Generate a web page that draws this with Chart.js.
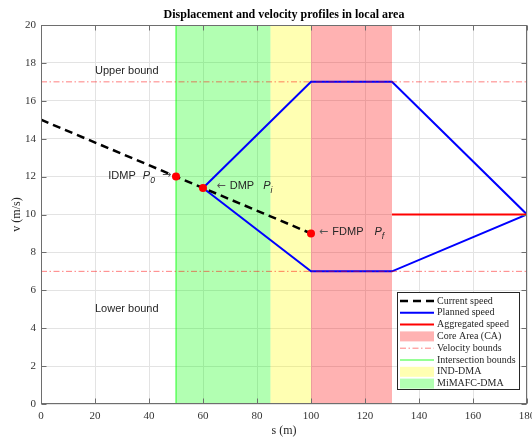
<!DOCTYPE html>
<html><head><meta charset="utf-8">
<script src="https://cdn.jsdelivr.net/npm/chart.js@4/dist/chart.umd.min.js"></script>
<style>html,body{margin:0;padding:0;background:#fff}canvas{display:block}</style>
</head><body>
<canvas id="c" width="532" height="438"></canvas>
<script>
// ---- data ----
const xTickValues = [0, 20, 40, 60, 80, 100, 120, 140, 160, 180];
const yTickValues = [0, 2, 4, 6, 8, 10, 12, 14, 16, 18, 20];
const currentSpeedS = [0, 100];
const currentSpeedV = [15, 9];
const plannedUpperS = [60, 100, 130, 180];
const plannedUpperV = [11.4, 17, 17, 10];
const plannedLowerS = [60, 100, 130, 180];
const plannedLowerV = [11.4, 7, 7, 10];
const aggregatedS = [130, 180];
const aggregatedV = [10, 10];
const velocityBounds = [17, 7];
const intersectionS = [50];
const markerS = [50, 60, 100];
const markerV = [12, 11.4, 9];
const coreAreaS = [100, 130];
const indDmaS = [85, 100];
const mimafcDmaS = [50, 85];
const legendLabels = ['Current speed', 'Planned speed', 'Aggregated speed', 'Core Area (CA)', 'Velocity bounds', 'Intersection bounds', 'IND-DMA', 'MiMAFC-DMA'];
const titleText = 'Displacement and velocity profiles in local area';

// ---- styles ----
const C_CORE = 'rgba(255,0,0,0.3)';
const C_IND = 'rgba(255,255,0,0.3)';
const C_MIM = 'rgba(0,255,0,0.3)';
const C_BOUND = 'rgba(255,0,0,0.5)';
const C_INTER = 'rgba(0,255,0,0.55)';
const SERIF = "'Liberation Serif', 'Times New Roman', serif";
const SANS = "'Liberation Sans', Arial, sans-serif";
const ARROWF = "'DejaVu Sans', sans-serif";
const DASH_BOUND = [6, 2.5, 1.5, 2.5];

const pts = (xs, ys) => xs.map((x, i) => ({x, y: ys[i]}));
const xMin = xTickValues[0], xMax = xTickValues[xTickValues.length - 1];
const yMin = yTickValues[0], yMax = yTickValues[yTickValues.length - 1];

const lineDs = (data, color, width, dash, order) => ({
  data, showLine: true, borderColor: color, borderWidth: width, borderDash: dash || [],
  pointRadius: 0, fill: false, tension: 0, order
});

const datasets = [
  {data: pts(markerS, markerV), showLine: false, pointRadius: 4, pointBackgroundColor: '#ff0000', pointBorderWidth: 0, order: 0},
  lineDs(pts([xMin, xMax], [velocityBounds[0], velocityBounds[0]]), C_BOUND, 1, DASH_BOUND, 1),
  lineDs(pts([xMin, xMax], [velocityBounds[1], velocityBounds[1]]), C_BOUND, 1, DASH_BOUND, 1),
  lineDs(pts(currentSpeedS, currentSpeedV), '#000000', 2.5, [8, 5], 2),
  lineDs(pts(aggregatedS, aggregatedV), '#ff0000', 2, null, 3),
  lineDs(pts(plannedUpperS, plannedUpperV), '#0000ff', 2, null, 4),
  lineDs(pts(plannedLowerS, plannedLowerV), '#0000ff', 2, null, 4),
  lineDs(pts([intersectionS[0], intersectionS[0]], [yMin, yMax]), C_INTER, 1.5, null, 5)
];

function drawRich(ctx, segs, x, y, align, size) {
  const fontFor = s => (s.italic ? 'italic ' : '') + (s.sub ? size * 0.78 : size) + 'px ' + (s.arrow ? ARROWF : SANS);
  let total = 0;
  segs.forEach(s => { ctx.font = fontFor(s); s.w = ctx.measureText(s.text).width + (s.gap || 0); total += s.w; });
  let cx = align === 'right' ? x - total : x;
  ctx.textAlign = 'left';
  ctx.textBaseline = 'middle';
  segs.forEach(s => {
    ctx.font = fontFor(s);
    ctx.fillStyle = s.arrow ? '#555' : '#262626';
    ctx.fillText(s.text, cx, y + (s.sub ? size * 0.45 : 0));
    cx += s.w;
  });
}

const decor = {
  id: 'decor',
  beforeDatasetsDraw(chart) {
    const {ctx, chartArea: a, scales: {x}} = chart;
    ctx.save();
    [[mimafcDmaS, C_MIM], [indDmaS, C_IND], [coreAreaS, C_CORE]].forEach(([r, c]) => {
      const x1 = x.getPixelForValue(r[0]), x2 = x.getPixelForValue(r[1]);
      ctx.fillStyle = c;
      ctx.fillRect(x1, a.top, x2 - x1, a.bottom - a.top);
    });
    ctx.restore();
  },
  afterDatasetsDraw(chart) {
    const {ctx, chartArea: a, scales: {x, y}} = chart;
    ctx.save();
    // annotations
    ctx.font = '11px ' + SANS;
    ctx.fillStyle = '#262626';
    ctx.textAlign = 'left';
    ctx.textBaseline = 'middle';
    ctx.fillText('Upper bound', x.getPixelForValue(20), y.getPixelForValue(17.6));
    ctx.fillText('Lower bound', x.getPixelForValue(20), y.getPixelForValue(5.0));
    drawRich(ctx, [{text: 'IDMP', gap: 7}, {text: 'P', italic: true}, {text: '0', italic: true, sub: true, gap: 7}, {text: '\u2192', arrow: true}],
      x.getPixelForValue(48.2), y.getPixelForValue(markerV[0]) - 1, 'right', 11);
    drawRich(ctx, [{text: '\u2190', arrow: true, gap: 4}, {text: 'DMP', gap: 9}, {text: 'P', italic: true}, {text: 'i', italic: true, sub: true}],
      x.getPixelForValue(65), y.getPixelForValue(markerV[1]) - 2, 'left', 11);
    drawRich(ctx, [{text: '\u2190', arrow: true, gap: 4}, {text: 'FDMP', gap: 11}, {text: 'P', italic: true}, {text: 'f', italic: true, sub: true}],
      x.getPixelForValue(103), y.getPixelForValue(markerV[2]) - 1.5, 'left', 11);
    // frame
    ctx.strokeStyle = '#6e6e6e';
    ctx.lineWidth = 1;
    const L = Math.round(a.left) + 0.5, R = Math.round(a.right) - 0.5, T = Math.round(a.top) + 0.5, B = Math.round(a.bottom) - 0.5;
    ctx.strokeRect(L, T, R - L, B - T);
    // inward ticks
    ctx.beginPath();
    xTickValues.forEach(v => {
      const px = Math.round(x.getPixelForValue(v)) + 0.5;
      ctx.moveTo(px, B); ctx.lineTo(px, B - 5);
      ctx.moveTo(px, T); ctx.lineTo(px, T + 5);
    });
    yTickValues.forEach(v => {
      const py = Math.round(y.getPixelForValue(v)) + 0.5;
      ctx.moveTo(L, py); ctx.lineTo(L + 5, py);
      ctx.moveTo(R, py); ctx.lineTo(R - 5, py);
    });
    ctx.stroke();
    ctx.restore();
  },
  afterDraw(chart) {
    const {ctx, chartArea: a} = chart;
    ctx.save();
    // title
    ctx.font = 'bold 12px ' + SERIF;
    ctx.fillStyle = '#000';
    ctx.textAlign = 'center';
    ctx.textBaseline = 'middle';
    ctx.fillText(titleText, (a.left + a.right) / 2, 15);
    // legend
    const bx = 397.5, by = 292.5, bw = 122, bh = 97;
    ctx.fillStyle = '#fff';
    ctx.fillRect(bx, by, bw, bh);
    ctx.strokeStyle = '#262626';
    ctx.lineWidth = 1;
    ctx.strokeRect(bx, by, bw, bh);
    const sx1 = 400, sx2 = 434, tx = 437, step = 11.8, y0 = 301;
    legendLabels.forEach((lab, i) => {
      const yy = y0 + i * step;
      ctx.save();
      if (i === 0 || i === 1 || i === 2 || i === 4 || i === 5) {
        ctx.beginPath();
        ctx.moveTo(sx1, yy); ctx.lineTo(sx2, yy);
        if (i === 0) { ctx.strokeStyle = '#000'; ctx.lineWidth = 2.5; ctx.setLineDash([8, 5]); }
        if (i === 1) { ctx.strokeStyle = '#0000ff'; ctx.lineWidth = 2; }
        if (i === 2) { ctx.strokeStyle = '#ff0000'; ctx.lineWidth = 2; }
        if (i === 4) { ctx.strokeStyle = C_BOUND; ctx.lineWidth = 1; ctx.setLineDash(DASH_BOUND); }
        if (i === 5) { ctx.strokeStyle = C_INTER; ctx.lineWidth = 1.5; }
        ctx.stroke();
      } else {
        ctx.fillStyle = i === 3 ? C_CORE : (i === 6 ? C_IND : C_MIM);
        ctx.fillRect(sx1, yy - 5, sx2 - sx1, 10);
      }
      ctx.restore();
      ctx.font = '10px ' + SERIF;
      ctx.fillStyle = '#262626';
      ctx.textAlign = 'left';
      ctx.textBaseline = 'middle';
      ctx.fillText(lab, tx, yy);
    });
    ctx.restore();
  }
};

new Chart(document.getElementById('c'), {
  type: 'scatter',
  data: {datasets},
  options: {
    responsive: false,
    animation: false,
    devicePixelRatio: 1,
    layout: {padding: {top: 25, right: 5, left: 0, bottom: 0}},
    plugins: {legend: {display: false}, tooltip: {enabled: false}, title: {display: false}},
    scales: {
      x: {
        type: 'linear', min: xMin, max: xMax,
        afterBuildTicks: s => { s.ticks = xTickValues.map(v => ({value: v})); },
        afterFit: s => { s.height = 34; s.paddingLeft = 0; s.paddingRight = 0; },
        grid: {color: '#e3e3e3', drawTicks: false},
        border: {display: false},
        ticks: {font: {family: SERIF, size: 11}, color: '#333', padding: 6, maxRotation: 0, autoSkip: false},
        title: {display: true, text: 's (m)', font: {family: SERIF, size: 12}, color: '#262626', padding: {top: 0, bottom: 0}}
      },
      y: {
        type: 'linear', min: yMin, max: yMax,
        afterBuildTicks: s => { s.ticks = yTickValues.map(v => ({value: v})); },
        afterFit: s => { s.width = 41; s.paddingTop = 0; s.paddingBottom = 0; },
        grid: {color: '#e3e3e3', drawTicks: false},
        border: {display: false},
        ticks: {font: {family: SERIF, size: 11}, color: '#333', padding: 5, autoSkip: false},
        title: {display: true, text: 'v (m/s)', font: {family: SERIF, size: 12}, color: '#262626', padding: {top: 10, bottom: 0}}
      }
    }
  },
  plugins: [decor]
});
</script>
</body></html>
